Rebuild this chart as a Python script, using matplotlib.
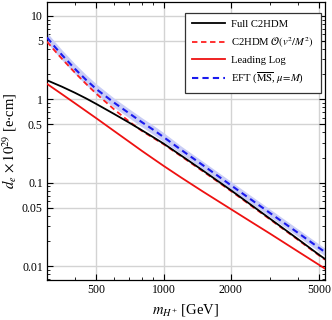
import matplotlib
matplotlib.use("Agg")
import matplotlib.pyplot as plt
from matplotlib.ticker import FixedLocator, FixedFormatter, LogLocator, NullFormatter

# ---- data ----
mass = [300, 325, 350, 400, 450, 500, 600, 700, 800, 900, 1000, 1200, 1500, 2000, 2500, 3000, 4000, 5000, 5300]
full_c2hdm = [1.69, 1.54, 1.415, 1.197, 1.021, 0.876, 0.666, 0.525, 0.424, 0.350, 0.294, 0.211, 0.140,
              0.0814, 0.0528, 0.037, 0.0211, 0.01355, 0.01215]
c2hdm_exp = [4.9, 3.82, 3.06, 2.09, 1.52, 1.16, 0.756, 0.543, 0.416, 0.343, 0.289, 0.207, 0.137,
             0.0798, 0.0517, 0.0363, 0.0207, 0.0133, 0.0119]
leading_log = [1.53, 1.319, 1.150, 0.897, 0.719, 0.590, 0.416, 0.310, 0.240, 0.193, 0.159, 0.115, 0.0783,
               0.0483, 0.0332, 0.0245, 0.0150, 0.01027, 0.0093]
eft = [5.5, 4.26, 3.40, 2.32, 1.70, 1.32, 0.91, 0.68, 0.53, 0.43, 0.352, 0.247, 0.162,
       0.0936, 0.0612, 0.0433, 0.0251, 0.0164, 0.0147]
eft_hi = [6.33, 4.90, 3.91, 2.67, 1.96, 1.52, 1.03, 0.768, 0.599, 0.486, 0.398, 0.274, 0.180,
          0.104, 0.0679, 0.0481, 0.0279, 0.0182, 0.0163]
eft_lo = [4.79, 3.71, 2.96, 2.02, 1.48, 1.15, 0.80, 0.598, 0.466, 0.378, 0.310, 0.222, 0.146,
          0.0842, 0.0551, 0.0390, 0.0226, 0.0148, 0.0132]

xticks = [500, 1000, 2000, 5000]
xticklabels = ["500", "1000", "2000", "5000"]
yticks = [0.01, 0.05, 0.1, 0.5, 1, 5, 10]
yticklabels = ["0.01", "0.05", "0.1", "0.5", "1", "5", "10"]

labels = ["Full C2HDM", r"C2HDM $\mathcal{O}(v^2/M^2)$", "Leading Log",
          r"EFT ($\overline{\rm MS}$, $\mu\!=\!M$)"]

plt.rcParams['font.family'] = ['Liberation Serif', 'DejaVu Serif']
plt.rcParams['mathtext.fontset'] = 'stix'

fig = plt.figure(figsize=(3.32, 3.20), dpi=100)
ax = fig.add_axes([0.1416, 0.125, 0.979 - 0.1416, 0.869])

ax.fill_between(mass, eft_lo, eft_hi, color='#c9cdf6', lw=0, zorder=2)
ax.plot(mass, full_c2hdm, color='black', lw=1.3, label=labels[0], zorder=4)
ax.plot(mass, c2hdm_exp, color='#ff2020', lw=1.3, ls=(0, (3, 2)), label=labels[1], zorder=3)
ax.plot(mass, leading_log, color='#ee1111', lw=1.3, label=labels[2], zorder=3)
ax.plot(mass, eft, color='#1a1aee', lw=1.5, ls=(0, (3, 2)), label=labels[3], zorder=5)

ax.set_xscale('log')
ax.set_yscale('log')
ax.set_xlim(300, 5300)
ax.set_ylim(0.0068, 14.7)

ax.xaxis.set_major_locator(FixedLocator(xticks))
ax.xaxis.set_major_formatter(FixedFormatter(xticklabels))
ax.xaxis.set_minor_locator(LogLocator(base=10, subs=range(1, 10), numticks=50))
ax.xaxis.set_minor_formatter(NullFormatter())
ax.yaxis.set_major_locator(FixedLocator(yticks))
ax.yaxis.set_major_formatter(FixedFormatter(yticklabels))
ax.yaxis.set_minor_locator(LogLocator(base=10, subs=range(1, 10), numticks=50))
ax.yaxis.set_minor_formatter(NullFormatter())

ax.grid(True, which='major', color='#d3d3d3', lw=1.0, zorder=0)
ax.set_axisbelow(True)
ax.tick_params(which='both', direction='in', top=True, right=True, labelsize=8.5, pad=3)
ax.tick_params(which='major', length=4, width=0.8)
ax.tick_params(which='minor', length=2, width=0.6)
for s in ax.spines.values():
    s.set_linewidth(0.9)

ax.set_xlabel(r"$m_{H^{+}}$ [GeV]", fontsize=10.5, labelpad=4)
ax.set_ylabel(r"$d_e\,\times 10^{29}$ [e$\cdot$cm]", fontsize=10.5, labelpad=2)

leg = ax.legend(loc='upper right', bbox_to_anchor=(0.986, 0.961), borderaxespad=0,
                fontsize=7.7, frameon=True, fancybox=False, edgecolor='#333333', framealpha=1,
                handlelength=3.1, labelspacing=0.55, borderpad=0.65, handletextpad=0.6)
leg.get_frame().set_linewidth(0.9)

fig.savefig("out.png", dpi=100)
